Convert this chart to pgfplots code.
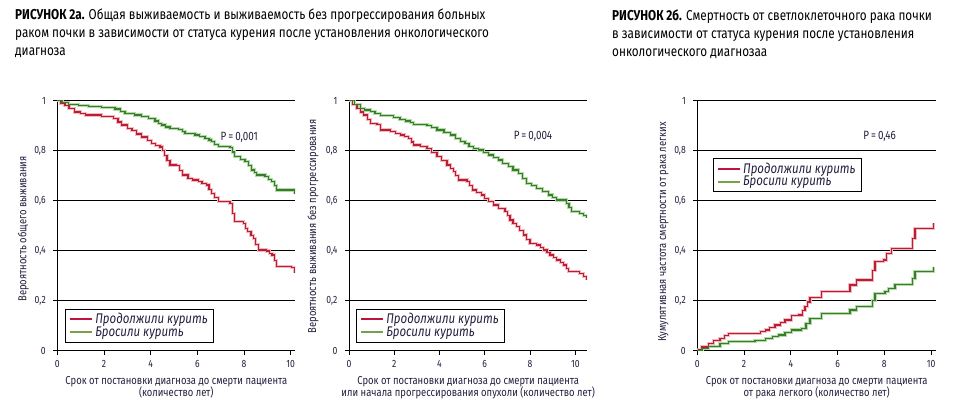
\documentclass[border=0pt]{standalone}
\usepackage{fontspec}
\setmainfont{Fira Sans}[FakeStretch=0.82]
\usepackage{pgfplots}
\usepackage{pgfplotstable}
\pgfplotsset{compat=1.18}

\definecolor{txt}{RGB}{35,32,62}
\definecolor{redline}{RGB}{185,30,55}
\definecolor{redband}{RGB}{242,185,190}
\definecolor{grnline}{RGB}{55,125,45}
\definecolor{grnband}{RGB}{180,218,165}
\definecolor{redleg}{RGB}{190,20,60}
\definecolor{grnleg}{RGB}{120,160,70}

% panel a: overall survival
\pgfplotstableread{
t v
0 1
0.15 0.99
0.33 0.98
0.5 0.97
0.75 0.955
1.0 0.948
1.2 0.943
1.9 0.936
2.4 0.93
2.6 0.915
2.76 0.903
3.0 0.89
3.2 0.88
3.4 0.867
3.62 0.855
3.85 0.84
4.04 0.83
4.2 0.822
4.4 0.815
4.5 0.80
4.6 0.78
4.7 0.762
4.83 0.743
5.1 0.74
5.25 0.72
5.35 0.703
5.6 0.69
5.8 0.683
6.04 0.676
6.2 0.67
6.4 0.663
6.5 0.645
6.61 0.63
6.75 0.613
6.9 0.596
7.4 0.59
7.5 0.55
7.61 0.516
7.97 0.51
8.05 0.49
8.15 0.476
8.3 0.462
8.4 0.45
8.5 0.425
8.61 0.403
8.97 0.399
9.1 0.39
9.2 0.383
9.3 0.36
9.4 0.336
10.04 0.332
10.15 0.31
}\redA
\pgfplotstableread{
t v
0 1
0.2 0.993
0.47 0.985
0.9 0.98
1.33 0.976
1.9 0.972
2.47 0.967
2.7 0.958
2.9 0.95
3.3 0.943
3.62 0.936
3.9 0.928
4.19 0.919
4.35 0.91
4.47 0.903
4.65 0.895
4.83 0.89
5.2 0.886
5.35 0.878
5.47 0.87
5.9 0.863
6.1 0.857
6.33 0.85
6.5 0.843
6.61 0.836
6.75 0.826
6.9 0.816
7.4 0.812
7.5 0.795
7.61 0.776
7.85 0.766
8.04 0.756
8.2 0.74
8.33 0.723
8.45 0.713
8.54 0.703
8.9 0.696
9.05 0.686
9.19 0.676
9.3 0.66
9.4 0.643
10.04 0.643
10.15 0.626
}\grnA

% panel a: progression-free survival
\pgfplotstableread{
t v
0 1
0.15 0.985
0.35 0.97
0.5 0.955
0.65 0.943
0.8 0.925
0.94 0.91
1.24 0.906
1.38 0.883
1.83 0.876
2.05 0.87
2.27 0.863
2.45 0.857
2.64 0.85
2.75 0.835
2.86 0.823
3.15 0.816
3.45 0.81
3.65 0.793
3.89 0.776
4.1 0.76
4.33 0.743
4.5 0.73
4.62 0.716
4.72 0.7
4.84 0.683
5.21 0.676
5.32 0.66
5.44 0.643
5.65 0.633
5.86 0.623
6.0 0.61
6.16 0.596
6.4 0.583
6.6 0.57
6.89 0.556
7.0 0.54
7.11 0.523
7.25 0.51
7.41 0.496
7.55 0.48
7.7 0.463
7.85 0.446
8.0 0.43
8.3 0.423
8.45 0.413
8.59 0.403
8.75 0.393
8.88 0.383
9.03 0.373
9.18 0.363
9.33 0.353
9.47 0.343
9.6 0.33
9.69 0.316
10.2 0.31
10.35 0.297
10.5 0.283
}\redB
\pgfplotstableread{
t v
0 1
0.25 0.985
0.5 0.97
0.7 0.963
0.94 0.956
1.15 0.948
1.38 0.94
1.97 0.932
2.25 0.925
2.49 0.919
2.7 0.912
2.86 0.906
3.45 0.9
3.65 0.892
3.89 0.883
4.2 0.873
4.48 0.863
4.7 0.85
4.92 0.836
5.13 0.83
5.3 0.816
5.5 0.81
5.71 0.803
5.95 0.793
6.16 0.783
6.4 0.773
6.6 0.763
6.8 0.75
7.04 0.736
7.25 0.723
7.48 0.71
7.65 0.69
7.85 0.67
8.05 0.66
8.3 0.65
8.55 0.636
8.81 0.623
9.0 0.613
9.18 0.603
9.62 0.59
9.72 0.573
9.84 0.556
10.2 0.55
10.35 0.54
10.5 0.53
}\grnB

% panel b: cumulative lung cancer mortality
\pgfplotstableread{
t v
0 0
0.04 0.003
0.2 0.015
0.47 0.03
0.7 0.04
0.97 0.05
1.15 0.06
1.33 0.07
2.47 0.07
2.7 0.077
2.9 0.083
3.1 0.093
3.32 0.103
3.55 0.113
3.75 0.123
4.04 0.14
4.33 0.143
4.5 0.16
4.61 0.176
4.72 0.195
4.82 0.212
5.26 0.212
5.32 0.236
6.39 0.236
6.53 0.263
6.82 0.283
7.39 0.283
7.5 0.32
7.6 0.356
7.96 0.363
8.1 0.39
8.32 0.41
9.1 0.41
9.2 0.45
9.31 0.49
10.03 0.49
10.1 0.51
}\redC
\pgfplotstableread{
t v
0 0
0.2 0.008
0.47 0.016
0.97 0.03
1.33 0.036
2.47 0.04
2.9 0.05
3.2 0.057
3.47 0.063
3.75 0.073
4.04 0.083
4.47 0.09
4.65 0.11
4.82 0.13
5.04 0.13
5.32 0.15
6.39 0.15
6.53 0.163
6.82 0.176
7.39 0.176
7.5 0.2
7.6 0.23
8.03 0.236
8.17 0.25
8.46 0.266
9.1 0.266
9.2 0.29
9.31 0.316
10.03 0.316
10.1 0.336
}\grnC

\newcommand\lblfont{\fontsize{11.5}{12.5}\selectfont}
\newcommand\tckfont{\fontsize{10.5}{12}\selectfont}

\pgfplotsset{
  km/.style={
    scale only axis, height=250pt, ymin=0, ymax=1, xmin=0,
    axis lines=left, axis line style={-, line width=0.9pt, black},
    ymajorgrids, grid style={black, line width=0.8pt},
    xtick={0,2,...,10}, ytick={0,0.2,0.4,0.6,0.8,1},
    yticklabels={0,{0,2},{0,4},{0,6},{0,8},1},
    tick align=outside, major tick length=4pt,
    tick style={black, line width=0.8pt},
    /pgf/number format/assume math mode=true,
    yticklabel style={font=\tckfont, text=txt, xshift=-4pt},
    xticklabel style={font=\tckfont, text=txt, yshift=-2pt},
    every axis x label/.style={at={([yshift=-22pt]axis description cs:0.5,0)},
      anchor=north, font=\lblfont, text=txt, align=center},
    every axis y label/.style={rotate=90, anchor=center, font=\lblfont, text=txt},
    legend image code/.code={\draw[#1] (0pt,0pt) -- (22pt,0pt);},
    legend cell align=left,
    legend style={draw=black, line width=0.8pt, fill=white,
      font=\fontsize{14}{14}\selectfont\itshape, text=txt,
      inner xsep=4pt, inner ysep=2pt, row sep=-2.5pt, anchor=north west},
  },
  band/.style={const plot, line width=3.2pt, forget plot},
  crv/.style={const plot, line width=1.2pt, forget plot},
}

\begin{document}
\begin{tikzpicture}[x=1pt,y=1pt]
\useasboundingbox (0pt,0pt) rectangle (970pt,-415pt);

\node[anchor=north west, align=left, inner sep=0pt, text=black,
  font=\fontsize{14.3}{18}\selectfont] at (15pt,-9pt)
  {\textbf{РИСУНОК 2а.} Общая выживаемость и выживаемость без прогрессирования больных\\
   раком почки в зависимости от статуса курения после установления онкологического\\
   диагноза};
\node[anchor=north west, align=left, inner sep=0pt, text=black,
  font=\fontsize{14.3}{18}\selectfont] at (612pt,-9pt)
  {\textbf{РИСУНОК 2б.} Смертность от светлоклеточного рака почки\\
   в зависимости от статуса курения после установления\\
   онкологического диагнозаа};

\begin{axis}[km, at={(57.3pt,-350.7pt)}, anchor=south west, width=238pt, xmax=10.2,
  xlabel={Срок от постановки диагноза до смерти пациента\\(количество лет)},
  ylabel={Вероятность общего выживания},
  ylabel style={at={([xshift=-34pt]axis description cs:0,0.487)}},
  legend style={at={(axis description cs:0.032,0.167)}}]
  \addplot[band, redband] table {\redA};
  \addplot[band, grnband] table {\grnA};
  \addplot[crv, redline] table {\redA};
  \addplot[crv, grnline] table {\grnA};
  \addlegendimage{redleg, line width=2pt}
  \addlegendentry{Продолжили курить}
  \addlegendimage{grnleg, line width=2pt}
  \addlegendentry{Бросили курить}
  \node[font=\fontsize{12}{12}\selectfont, text=txt] at (axis cs:7.8,0.855) {P\,=\,0,001};
\end{axis}

\begin{axis}[km, at={(349pt,-350.7pt)}, anchor=south west, width=238.3pt, xmax=10.53,
  xlabel={Срок от постановки диагноза до смерти пациента\\или начала прогрессирования опухоли (количество лет)},
  ylabel={Вероятность выживания без прогрессирования},
  ylabel style={at={([xshift=-36pt]axis description cs:0,0.497)}},
  legend style={at={(axis description cs:0.029,0.167)}}]
  \addplot[band, redband] table {\redB};
  \addplot[band, grnband] table {\grnB};
  \addplot[crv, redline] table {\redB};
  \addplot[crv, grnline] table {\grnB};
  \addlegendimage{redleg, line width=2pt}
  \addlegendentry{Продолжили курить}
  \addlegendimage{grnleg, line width=2pt}
  \addlegendentry{Бросили курить}
  \node[font=\fontsize{12}{12}\selectfont, text=txt] at (axis cs:8.13,0.856) {P\,=\,0,004};
\end{axis}

\begin{axis}[km, at={(697.3pt,-350.7pt)}, anchor=south west, width=238.7pt, xmax=10.21,
  xlabel={Срок от постановки диагноза до смерти пациента\\от рака легкого (количество лет)},
  ylabel={Кумулятивная частота смертности от рака легких},
  ylabel style={at={([xshift=-34pt]axis description cs:0,0.475)}},
  legend style={at={(axis description cs:0.0645,0.77)}}]
  \addplot[band, redband] table {\redC};
  \addplot[band, grnband] table {\grnC};
  \addplot[crv, redline] table {\redC};
  \addplot[crv, grnline] table {\grnC};
  \addlegendimage{redleg, line width=2pt}
  \addlegendentry{Продолжили курить}
  \addlegendimage{grnleg, line width=2pt}
  \addlegendentry{Бросили курить}
  \node[font=\fontsize{12}{12}\selectfont, text=txt] at (axis cs:7.8,0.856) {P\,=\,0,46};
\end{axis}
\end{tikzpicture}
\end{document}
